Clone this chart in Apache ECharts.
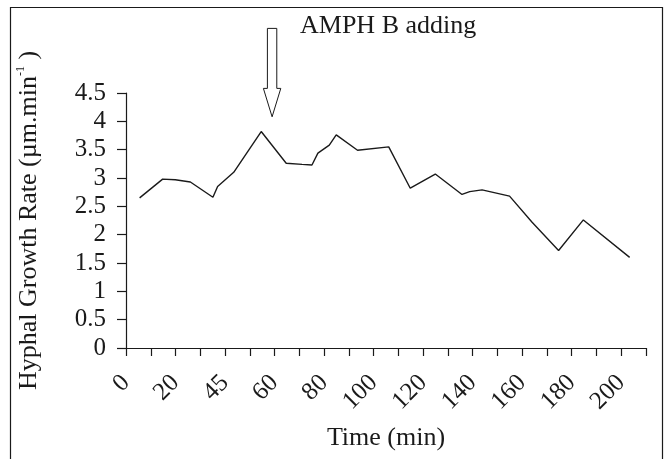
<!DOCTYPE html>
<html>
<head>
<meta charset="utf-8">
<script src="https://cdn.jsdelivr.net/npm/echarts@6/dist/echarts.min.js"></script>
<style>html,body{margin:0;padding:0;background:#fff}#c{width:665px;height:459px}</style>
</head>
<body>
<div id="c"></div>
<script>
const times = [5.5, 14.8, 19.9, 26.0, 35.1, 37.0, 43.5, 54.6, 64.7, 71.1, 75.1, 77.5, 82.1, 84.9, 93.5, 106.1, 114.8, 124.9, 135.7, 138.8, 143.8, 154.9, 164.0, 174.7, 184.7, 203.4];
// Hyphal growth rate (µm/min)
const growthRate = [2.65, 2.98, 2.97, 2.93, 2.66, 2.85, 3.10, 3.82, 3.26, 3.24, 3.23, 3.44, 3.58, 3.76, 3.49, 3.55, 2.82, 3.07, 2.71, 2.76, 2.79, 2.68, 2.22, 1.72, 2.26, 1.60];
// x tick labels, shown at every other tick (every 20 units)
const xTickLabels = ['0', '20', '45', '60', '80', '100', '120', '140', '160', '180', '200'];
const arrowTime = 59;
const arrowTipValue = 4.08;

const FONT = 'Liberation Serif';
const chart = echarts.init(document.getElementById('c'), null, {renderer: 'canvas'});

const option = {
  animation: false,
  backgroundColor: '#fff',
  grid: {left: 126, right: 19, top: 93, bottom: 111},
  xAxis: {
    type: 'value', min: 0, max: 210, interval: 10,
    name: 'Time (min)', nameLocation: 'middle', nameGap: 77,
    nameTextStyle: {fontFamily: FONT, fontSize: 26, color: '#1a1a1a'},
    axisLine: {show: true, lineStyle: {color: '#1a1a1a', width: 1.2}},
    axisTick: {show: true, length: 8, lineStyle: {color: '#1a1a1a', width: 1.2}},
    splitLine: {show: false},
    axisLabel: {
      rotate: 45, margin: 31, fontFamily: FONT, fontSize: 25, color: '#1a1a1a',
      formatter: function (v) {
        const k = Math.round(v / 10);
        if (k % 2 !== 0) return '';
        const i = k / 2;
        return i < xTickLabels.length ? xTickLabels[i] : '';
      }
    }
  },
  yAxis: {
    type: 'value', min: 0, max: 4.5, interval: 0.5,
    name: '{a|Hyphal Growth Rate (µm.min}{s|-1}{a| )}',
    nameLocation: 'middle', nameGap: 83, nameRotate: 90,
    nameTextStyle: {
      fontFamily: FONT, color: '#1a1a1a',
      rich: {
        a: {fontFamily: FONT, fontSize: 26, color: '#1a1a1a', lineHeight: 28},
        s: {fontFamily: FONT, fontSize: 12, color: '#1a1a1a', verticalAlign: 'top', lineHeight: 28}
      }
    },
    axisLine: {show: true, lineStyle: {color: '#1a1a1a', width: 1.2}},
    axisTick: {show: true, length: 9, lineStyle: {color: '#1a1a1a', width: 1.2}},
    splitLine: {show: false},
    axisLabel: {margin: 20, fontFamily: FONT, fontSize: 25, color: '#1a1a1a'}
  },
  series: [{
    type: 'line',
    data: times.map((t, i) => [t, growthRate[i]]),
    showSymbol: false,
    symbol: 'none',
    lineStyle: {color: '#1a1a1a', width: 1.4},
    z: 3
  }]
};
chart.setOption(option);

const tip = chart.convertToPixel({gridIndex: 0}, [arrowTime, arrowTipValue]);
const cx = tip[0], ty = tip[1];
chart.setOption({
  graphic: [
    {
      type: 'rect', silent: true,
      shape: {x: 10.5, y: 7.5, width: 652, height: 470},
      style: {fill: 'none', stroke: '#1a1a1a', lineWidth: 1.2}, z: 0
    },
    {
      type: 'polygon', silent: true,
      shape: {points: [
        [cx - 4.7, ty - 88.4], [cx + 4.7, ty - 88.4], [cx + 4.7, ty - 28.4],
        [cx + 8.7, ty - 28.4], [cx, ty], [cx - 8.7, ty - 28.4], [cx - 4.7, ty - 28.4]
      ]},
      style: {fill: '#fff', stroke: '#1a1a1a', lineWidth: 1}
    },
    {
      type: 'text', silent: true,
      x: 300, y: 26,
      style: {text: 'AMPH B adding', fontFamily: FONT, fontSize: 26, fill: '#1a1a1a', verticalAlign: 'middle', align: 'left'}
    }
  ]
});
</script>
</body>
</html>
